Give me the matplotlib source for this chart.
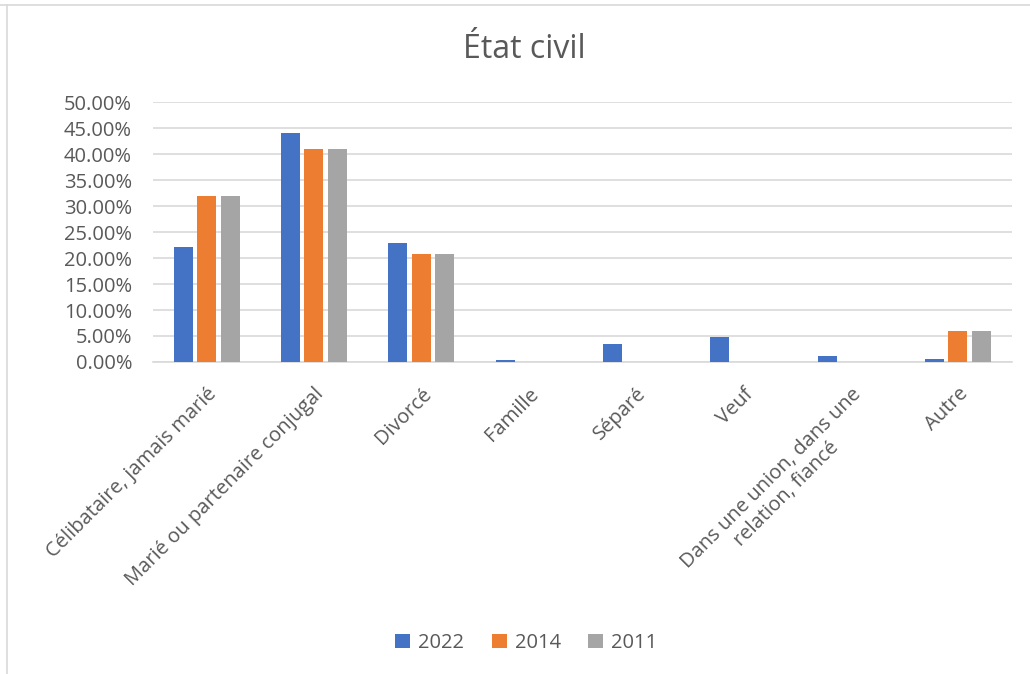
import matplotlib
matplotlib.use("Agg")
import matplotlib.pyplot as plt
import numpy as np
from matplotlib.lines import Line2D
from matplotlib.transforms import ScaledTranslation, blended_transform_factory

categories = ["Célibataire, jamais marié", "Marié ou partenaire conjugal", "Divorcé",
              "Famille", "Séparé", "Veuf", "Dans une union, dans une\nrelation, fiancé", "Autre"]
series_names = ["2022", "2014", "2011"]
v2022 = [22.2, 44.1, 22.9, 0.3, 3.4, 4.8, 1.1, 0.5]
v2014 = [32.0, 41.0, 20.8, 0.0, 0.0, 0.0, 0.0, 5.9]
v2011 = [32.0, 41.0, 20.8, 0.0, 0.0, 0.0, 0.0, 5.9]
colors = ["#4472C4", "#ED7D31", "#A5A5A5"]

plt.rcParams['font.family'] = ['Open Sans', 'DejaVu Sans']
txt = "#595959"

fig = plt.figure(figsize=(10.30, 6.74), dpi=100)
ax = fig.add_axes([0.1485, 0.463, 0.8337, 0.385])

x = np.arange(len(categories))
w = 0.177
step = 0.219
for i, (vals, name) in enumerate(zip([v2022, v2014, v2011], series_names)):
    ax.bar(x + (i - 1) * step, np.array(vals) / 100, width=w, color=colors[i], label=name, zorder=3)

ax.set_xlim(-0.5, len(categories) - 0.5)
ax.set_ylim(0, 0.5)
yt = np.arange(0, 0.51, 0.05)
ax.set_yticks(yt)
ax.set_yticklabels([f"{t*100:.2f}%" for t in yt], fontsize=14.5, color=txt)
ax.grid(axis='y', color="#d9d9d9", linewidth=1.2, zorder=0)
for s in ["top", "right", "left"]:
    ax.spines[s].set_visible(False)
ax.spines["bottom"].set_color("#d9d9d9")
ax.spines["bottom"].set_linewidth(1.2)
ax.tick_params(axis='y', length=0, pad=15)
ax.set_xticks(x)
ax.tick_params(axis='x', length=0, labelbottom=False)

trans = blended_transform_factory(ax.transData, ax.transAxes) + \
    ScaledTranslation(0.0, -0.22, fig.dpi_scale_trans)
for xi, lab in zip(x, categories):
    ax.text(xi, 0, lab, transform=trans, rotation=45, ha='right', va='top',
            rotation_mode='anchor', fontsize=14.5, color=txt, multialignment='center')

fig.text(0.509, 0.926, "État civil", ha='center', va='center', fontsize=23, color=txt)

handles, labels = ax.get_legend_handles_labels()
fig.legend(handles, labels, loc='center', bbox_to_anchor=(0.511, 0.046), ncol=3, frameon=False,
           fontsize=14.5, labelcolor=txt, handlelength=0.75, handleheight=0.75, handletextpad=0.4,
           columnspacing=1.35)

fig.add_artist(Line2D([0, 1], [1 - 5/674, 1 - 5/674], transform=fig.transFigure,
                      color="#d9d9d9", linewidth=1.2))
fig.add_artist(Line2D([7/1030, 7/1030], [0, 1 - 5/674], transform=fig.transFigure,
                      color="#d9d9d9", linewidth=1.2))

fig.savefig("out.png", dpi=100)
